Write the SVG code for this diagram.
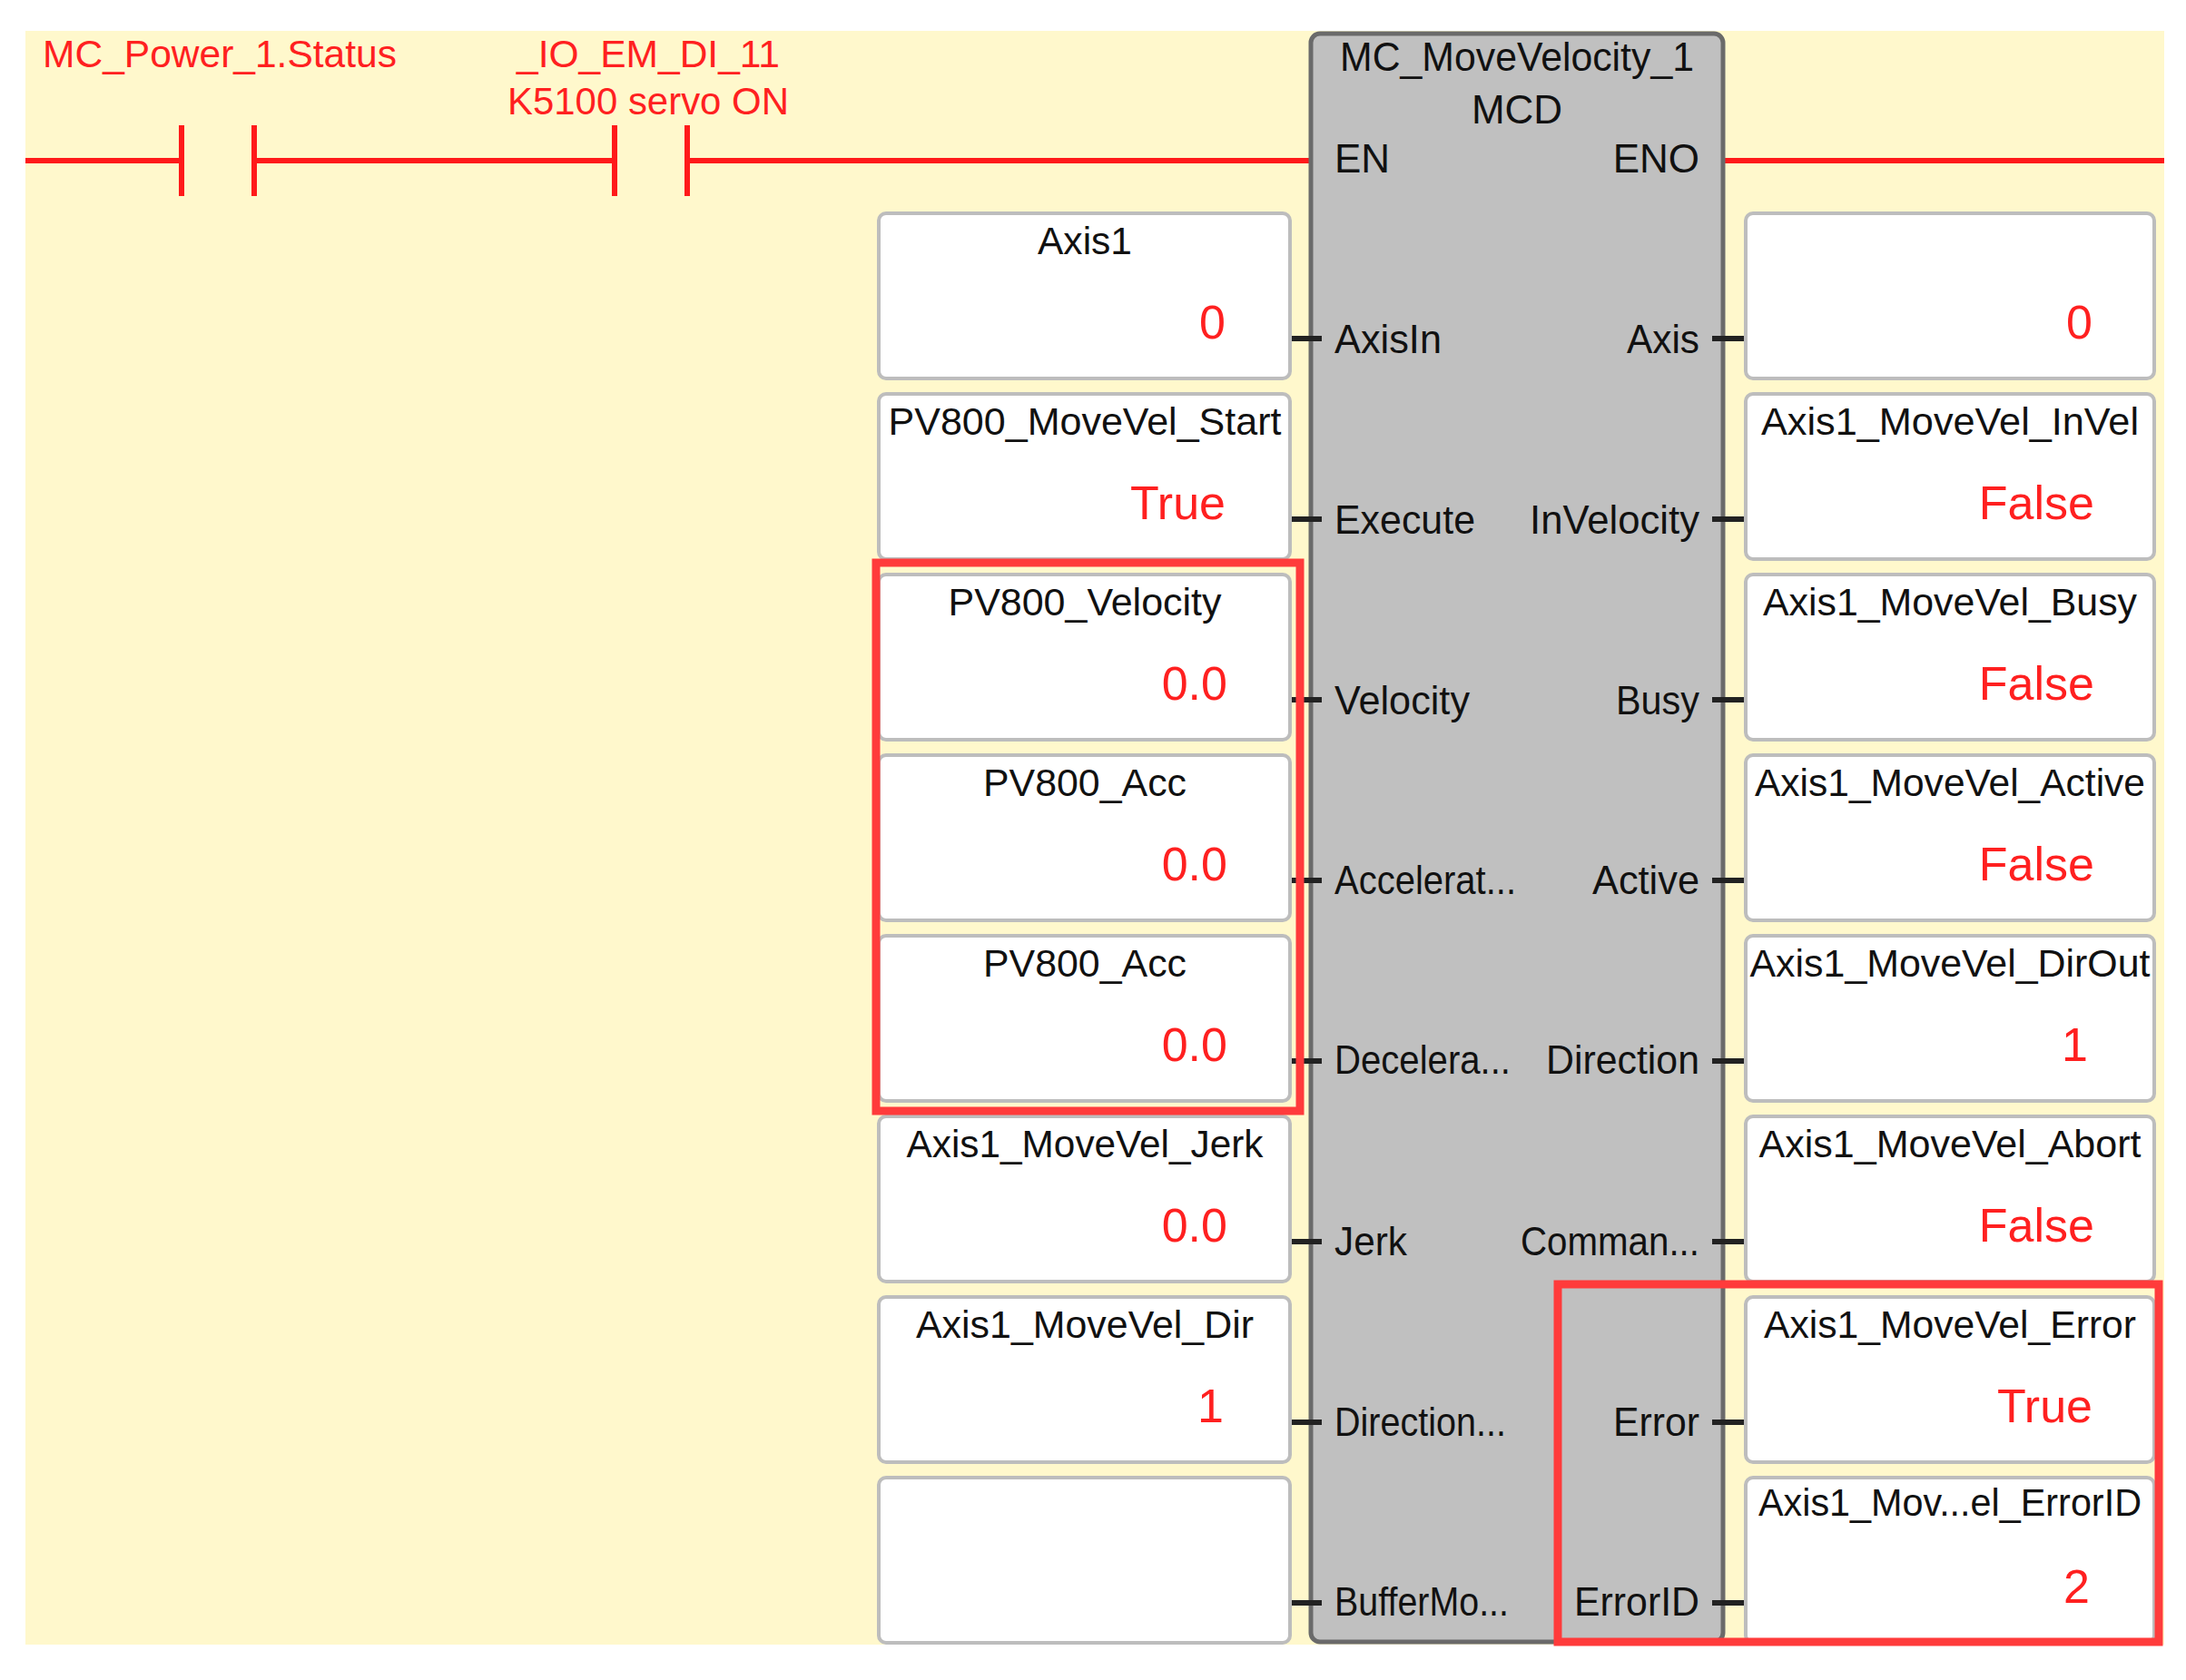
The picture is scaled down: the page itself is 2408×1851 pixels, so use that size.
<svg xmlns="http://www.w3.org/2000/svg" width="2408" height="1851" viewBox="0 0 2408 1851">
<style>
.t{font-family:"Liberation Sans",Arial,sans-serif;fill:#111;font-size:42px}
.r{fill:#ff2020}
.v{font-family:"Liberation Sans",Arial,sans-serif;fill:#ff2020;font-size:52px;text-anchor:end}
.p{font-family:"Liberation Sans",Arial,sans-serif;fill:#111;font-size:44px}
.box{fill:#fff;stroke:#bdbdbd;stroke-width:4}
.pin{stroke:#222;stroke-width:6}
.hl{fill:none;stroke:#ff3b3b;stroke-width:9}
.wire{stroke:#ff1a1a;stroke-width:6;fill:none}
</style>
<rect width="2408" height="1851" fill="#fff"/>
<rect x="28" y="34" width="2356" height="1778" fill="#fff8cc"/>
<g id="connectors">
<path class="wire" d="M28 177H200M280 177H677M757 177H1446M1896 177H2384"/>
<path class="wire" d="M200 138V216M280 138V216M677 138V216M757 138V216"/>
</g>
<g id="contact1"><text class="t r" x="47" y="74" textLength="390" lengthAdjust="spacingAndGlyphs">MC_Power_1.Status</text></g>
<g id="contact2"><text class="t r" x="714" y="74" text-anchor="middle" textLength="290" lengthAdjust="spacingAndGlyphs">_IO_EM_DI_11</text>
<text class="t r" x="714" y="126" text-anchor="middle" textLength="310" lengthAdjust="spacingAndGlyphs">K5100 servo ON</text></g>
<g id="block">
<rect x="1444" y="37" width="454" height="1772" rx="10" fill="#c0c0c0" stroke="#6a6a6a" stroke-width="5"/>
<text class="p" x="1671" y="78" text-anchor="middle" textLength="390" lengthAdjust="spacingAndGlyphs">MC_MoveVelocity_1</text>
<text class="p" x="1671" y="136" text-anchor="middle">MCD</text>
<text class="p" x="1470" y="190">EN</text>
<text class="p" x="1872" y="190" text-anchor="end">ENO</text>
<g class="p">
<text x="1470" y="389" textLength="118" lengthAdjust="spacingAndGlyphs">AxisIn</text>
<text x="1470" y="588" textLength="155" lengthAdjust="spacingAndGlyphs">Execute</text>
<text x="1470" y="787" textLength="149" lengthAdjust="spacingAndGlyphs">Velocity</text>
<text x="1470" y="985" textLength="200" lengthAdjust="spacingAndGlyphs">Accelerat...</text>
<text x="1470" y="1183" textLength="194" lengthAdjust="spacingAndGlyphs">Decelera...</text>
<text x="1470" y="1383" textLength="80" lengthAdjust="spacingAndGlyphs">Jerk</text>
<text x="1470" y="1582" textLength="189" lengthAdjust="spacingAndGlyphs">Direction...</text>
<text x="1470" y="1780" textLength="192" lengthAdjust="spacingAndGlyphs">BufferMo...</text>
</g>
<g class="p" text-anchor="end">
<text x="1872" y="389" textLength="80" lengthAdjust="spacingAndGlyphs">Axis</text>
<text x="1872" y="588" textLength="187" lengthAdjust="spacingAndGlyphs">InVelocity</text>
<text x="1872" y="787" textLength="92" lengthAdjust="spacingAndGlyphs">Busy</text>
<text x="1872" y="985" textLength="118" lengthAdjust="spacingAndGlyphs">Active</text>
<text x="1872" y="1183" textLength="169" lengthAdjust="spacingAndGlyphs">Direction</text>
<text x="1872" y="1383" textLength="197" lengthAdjust="spacingAndGlyphs">Comman...</text>
<text x="1872" y="1582" textLength="95" lengthAdjust="spacingAndGlyphs">Error</text>
<text x="1872" y="1780" textLength="138" lengthAdjust="spacingAndGlyphs">ErrorID</text>
</g>
</g>
<g id="pins">
<path class="pin" d="M1410 373h46M1410 572h46M1410 771h46M1410 970h46M1410 1169h46M1410 1368h46M1410 1567h46M1410 1766h46"/>
<path class="pin" d="M1886 373h46M1886 572h46M1886 771h46M1886 970h46M1886 1169h46M1886 1368h46M1886 1567h46M1886 1766h46"/>
</g>
<g id="inputs">
<g id="in1"><rect class="box" x="968" y="235" width="453" height="182" rx="8"/><text class="t" x="1195" y="280" text-anchor="middle" textLength="104" lengthAdjust="spacingAndGlyphs">Axis1</text><text class="v" x="1350" y="373">0</text></g>
<g id="in2"><rect class="box" x="968" y="434" width="453" height="182" rx="8"/><text class="t" x="1195" y="479" text-anchor="middle" textLength="433" lengthAdjust="spacingAndGlyphs">PV800_MoveVel_Start</text><text class="v" x="1350" y="572">True</text></g>
<g id="in3"><rect class="box" x="968" y="633" width="453" height="182" rx="8"/><text class="t" x="1195" y="678" text-anchor="middle" textLength="301" lengthAdjust="spacingAndGlyphs">PV800_Velocity</text><text class="v" x="1352" y="771">0.0</text></g>
<g id="in4"><rect class="box" x="968" y="832" width="453" height="182" rx="8"/><text class="t" x="1195" y="877" text-anchor="middle" textLength="224" lengthAdjust="spacingAndGlyphs">PV800_Acc</text><text class="v" x="1352" y="970">0.0</text></g>
<g id="in5"><rect class="box" x="968" y="1031" width="453" height="182" rx="8"/><text class="t" x="1195" y="1076" text-anchor="middle" textLength="224" lengthAdjust="spacingAndGlyphs">PV800_Acc</text><text class="v" x="1352" y="1169">0.0</text></g>
<g id="in6"><rect class="box" x="968" y="1230" width="453" height="182" rx="8"/><text class="t" x="1195" y="1275" text-anchor="middle" textLength="393" lengthAdjust="spacingAndGlyphs">Axis1_MoveVel_Jerk</text><text class="v" x="1352" y="1368">0.0</text></g>
<g id="in7"><rect class="box" x="968" y="1429" width="453" height="182" rx="8"/><text class="t" x="1195" y="1474" text-anchor="middle" textLength="372" lengthAdjust="spacingAndGlyphs">Axis1_MoveVel_Dir</text><text class="v" x="1348" y="1567">1</text></g>
<g id="in8"><rect class="box" x="968" y="1628" width="453" height="182" rx="8"/></g>
</g>
<g id="outputs">
<g id="out1"><rect class="box" x="1923" y="235" width="450" height="182" rx="8"/><text class="v" x="2305" y="373">0</text></g>
<g id="out2"><rect class="box" x="1923" y="434" width="450" height="182" rx="8"/><text class="t" x="2148" y="479" text-anchor="middle" textLength="416" lengthAdjust="spacingAndGlyphs">Axis1_MoveVel_InVel</text><text class="v" x="2307" y="572">False</text></g>
<g id="out3"><rect class="box" x="1923" y="633" width="450" height="182" rx="8"/><text class="t" x="2148" y="678" text-anchor="middle" textLength="412" lengthAdjust="spacingAndGlyphs">Axis1_MoveVel_Busy</text><text class="v" x="2307" y="771">False</text></g>
<g id="out4"><rect class="box" x="1923" y="832" width="450" height="182" rx="8"/><text class="t" x="2148" y="877" text-anchor="middle" textLength="430" lengthAdjust="spacingAndGlyphs">Axis1_MoveVel_Active</text><text class="v" x="2307" y="970">False</text></g>
<g id="out5"><rect class="box" x="1923" y="1031" width="450" height="182" rx="8"/><text class="t" x="2148" y="1076" text-anchor="middle" textLength="441" lengthAdjust="spacingAndGlyphs">Axis1_MoveVel_DirOut</text><text class="v" x="2300" y="1169">1</text></g>
<g id="out6"><rect class="box" x="1923" y="1230" width="450" height="182" rx="8"/><text class="t" x="2148" y="1275" text-anchor="middle" textLength="421" lengthAdjust="spacingAndGlyphs">Axis1_MoveVel_Abort</text><text class="v" x="2307" y="1368">False</text></g>
<g id="out7"><rect class="box" x="1923" y="1429" width="450" height="182" rx="8"/><text class="t" x="2148" y="1474" text-anchor="middle" textLength="410" lengthAdjust="spacingAndGlyphs">Axis1_MoveVel_Error</text><text class="v" x="2305" y="1567">True</text></g>
<g id="out8"><rect class="box" x="1923" y="1628" width="450" height="182" rx="8"/><text class="t" x="2148" y="1670" text-anchor="middle" textLength="422" lengthAdjust="spacingAndGlyphs">Axis1_Mov...el_ErrorID</text><text class="v" x="2302" y="1766">2</text></g>
</g>
<g id="highlights">
<rect class="hl" x="965" y="620" width="467" height="604"/>
<rect class="hl" x="1716" y="1415" width="662" height="394"/>
</g>
</svg>
